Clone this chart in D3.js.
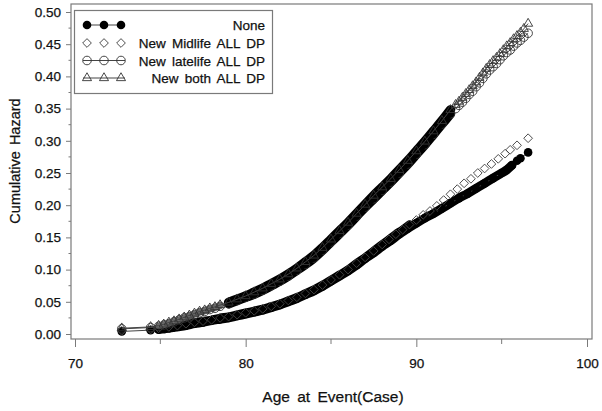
<!DOCTYPE html>
<html><head><meta charset="utf-8">
<script src="https://cdn.jsdelivr.net/npm/d3@7"></script>
<style>body{margin:0;background:#fff}svg{display:block;font-family:"Liberation Sans",Arial,Helvetica,sans-serif}</style>
</head><body><svg id="c" width="602" height="411"></svg>
<script>
// ---- data ----
const seriesNames = ["None", "New Midlife ALL DP", "New latelife ALL DP", "New both ALL DP"];

const noneAge = [72.74,74.43,74.9,75.25,75.5,75.75,76.0,76.5,77.0,77.5,78.0,78.5,79.0,79.5,80.0,80.5,81.0,81.5,82.0,82.5,83.0,83.5,84.0,84.5,85.0,85.5,86.0,86.5,87.0,87.5,88.0,88.5,89.0,89.5,90.0,90.5,91.0,91.5,92.0,92.5,93.0,93.5,94.0,94.5,95.0,95.3,95.6,95.9,96.1,96.55];
const noneHaz = [0.004,0.006,0.007,0.008,0.009,0.010,0.011,0.013,0.016,0.018,0.021,0.023,0.025,0.028,0.031,0.034,0.037,0.041,0.045,0.050,0.055,0.061,0.067,0.074,0.082,0.090,0.098,0.107,0.117,0.126,0.136,0.145,0.155,0.164,0.172,0.180,0.187,0.195,0.203,0.211,0.218,0.226,0.234,0.242,0.250,0.255,0.262,0.269,0.273,0.282];

const midAge = [72.74,74.43,74.9,75.5,76.0,76.5,77.0,77.5,78.0,78.5,79.0,79.5,80.0,80.5,81.0,81.5,82.0,82.5,83.0,83.5,84.0,84.5,85.0,85.5,86.0,86.5,87.0,87.5,88.0,88.4,88.8,89.2,89.6,90.0,90.4,90.8,91.2,91.6,92.0,92.4,92.8,93.2,93.6,94.0,94.4,94.8,95.2,95.5,95.9,96.55];
const midHaz = [0.005,0.007,0.009,0.011,0.013,0.016,0.018,0.020,0.022,0.025,0.027,0.030,0.033,0.036,0.039,0.043,0.047,0.052,0.057,0.063,0.069,0.076,0.084,0.092,0.100,0.110,0.119,0.129,0.139,0.147,0.155,0.162,0.170,0.177,0.185,0.191,0.199,0.208,0.217,0.225,0.234,0.241,0.250,0.257,0.264,0.272,0.280,0.286,0.293,0.304];

const lateAge = [72.74,74.43,74.9,75.2,75.5,75.8,76.1,76.4,76.7,77.0,77.3,77.6,77.9,78.2,78.5,79.0,79.5,80.0,80.5,81.0,81.5,82.0,82.5,83.0,83.5,84.0,84.5,85.0,85.5,86.0,86.5,87.0,87.5,88.0,88.5,89.0,89.5,90.0,90.5,91.0,91.5,92.0,92.3,92.5,92.7,92.9,93.1,93.3,93.5,93.7,93.9,94.1,94.3,94.5,94.7,94.9,95.1,95.3,95.5,95.7,95.9,96.1,96.3,96.55];
const lateHaz = [0.008,0.010,0.012,0.014,0.016,0.019,0.022,0.025,0.027,0.030,0.033,0.035,0.038,0.040,0.043,0.047,0.052,0.057,0.062,0.068,0.075,0.082,0.090,0.099,0.108,0.118,0.130,0.143,0.156,0.169,0.183,0.197,0.210,0.223,0.236,0.250,0.264,0.279,0.294,0.310,0.326,0.342,0.350,0.355,0.360,0.366,0.372,0.377,0.384,0.390,0.397,0.404,0.410,0.415,0.420,0.426,0.432,0.437,0.441,0.447,0.452,0.456,0.461,0.467];

const bothAge = [72.74,74.43,74.9,75.2,75.5,75.8,76.1,76.4,76.7,77.0,77.3,77.6,77.9,78.2,78.5,79.0,79.5,80.0,80.5,81.0,81.5,82.0,82.5,83.0,83.5,84.0,84.5,85.0,85.5,86.0,86.5,87.0,87.5,88.0,88.5,89.0,89.5,90.0,90.5,91.0,91.5,92.0,92.3,92.5,92.7,92.9,93.1,93.3,93.5,93.7,93.9,94.1,94.3,94.5,94.7,94.9,95.1,95.3,95.5,95.7,95.9,96.1,96.3,96.55];
const bothHaz = [0.009,0.011,0.013,0.015,0.018,0.020,0.023,0.026,0.029,0.032,0.035,0.037,0.040,0.042,0.045,0.049,0.054,0.059,0.065,0.071,0.078,0.085,0.093,0.102,0.112,0.122,0.134,0.147,0.160,0.173,0.187,0.201,0.215,0.228,0.241,0.255,0.269,0.284,0.299,0.315,0.331,0.348,0.356,0.361,0.367,0.373,0.379,0.385,0.391,0.398,0.405,0.412,0.418,0.424,0.429,0.435,0.441,0.447,0.452,0.458,0.463,0.468,0.474,0.482];

const xTickValues = [70, 80, 90, 100];
const xMinorValues = [75, 85, 95];
const yTickValues = [0, 0.05, 0.10, 0.15, 0.20, 0.25, 0.30, 0.35, 0.40, 0.45, 0.50];
const yMinorValues = [0.025, 0.075, 0.125, 0.175, 0.225, 0.275, 0.325, 0.375, 0.425, 0.475];
const xTitle = "Age at Event(Case)";
const yTitle = "Cumulative Hazard";

// ---- drawing ----
const svg = d3.select("#c");
const frame = {left: 71, top: 4, right: 592, bottom: 339};
const x = d3.scaleLinear().domain([70, 100]).range([75, 587]);
const y = d3.scaleLinear().domain([0, 0.5]).range([334, 12]);
const gridGrey = "#7a7a7a";
const textStyle = sel => sel.attr("fill", "#111").attr("stroke", "#111").attr("stroke-width", 0.25);

const zip = (a, h) => a.map((v, i) => ({age: v, haz: h[i]}));
const series = [
  {name: seriesNames[0], data: zip(noneAge, noneHaz), sym: "filled", line: true, band: [74.8, 95.7], soft: null, w: 9},
  {name: seriesNames[1], data: zip(midAge, midHaz), sym: "diamond", line: false, band: [74.8, 89.6], soft: null, w: 8.5},
  {name: seriesNames[2], data: zip(lateAge, lateHaz), sym: "circle", line: true, band: [78.6, 92.2], soft: [74.8, 78.8], w: 9.5},
  {name: seriesNames[3], data: zip(bothAge, bothHaz), sym: "triangle", line: true, band: [78.6, 92.2], soft: [74.8, 78.8], w: 9.5}
];

// frame
svg.append("rect").attr("x", frame.left).attr("y", frame.top)
  .attr("width", frame.right - frame.left).attr("height", frame.bottom - frame.top)
  .attr("fill", "none").attr("stroke", gridGrey).attr("stroke-width", 1.2);

// axes
const yAxis = d3.axisLeft(y).tickValues(yTickValues).tickFormat(d3.format(".2f")).tickSizeInner(5).tickSizeOuter(0).tickPadding(5);
const gy = svg.append("g").attr("transform", `translate(${frame.left},0)`).call(yAxis);
gy.select(".domain").remove();
gy.selectAll(".tick line").attr("stroke", gridGrey);
gy.selectAll(".tick text").attr("font-size", "13.5px").attr("font-family", null).call(textStyle);
svg.append("g").selectAll("line").data(yMinorValues).join("line")
  .attr("x1", frame.left - 2.5).attr("x2", frame.left).attr("y1", d => y(d)).attr("y2", d => y(d)).attr("stroke", gridGrey);

const xAxis = d3.axisBottom(x).tickValues(xTickValues).tickFormat(d3.format("d")).tickSizeInner(8).tickSizeOuter(0).tickPadding(11);
const gx = svg.append("g").attr("transform", `translate(0,${frame.bottom})`).call(xAxis);
gx.select(".domain").remove();
gx.selectAll(".tick line").attr("stroke", gridGrey);
gx.selectAll(".tick text").attr("font-size", "13.5px").attr("font-family", null).call(textStyle);
svg.append("g").selectAll("line").data(xMinorValues).join("line")
  .attr("x1", d => x(d)).attr("x2", d => x(d)).attr("y1", frame.bottom).attr("y2", frame.bottom + 5).attr("stroke", gridGrey);

// titles
svg.append("text").attr("x", 333).attr("y", 402).attr("text-anchor", "middle")
  .attr("font-size", "15.5px").attr("word-spacing", "3px").call(textStyle).text(xTitle);
svg.append("text").attr("transform", "translate(20,161) rotate(-90)").attr("text-anchor", "middle")
  .attr("font-size", "14.5px").attr("word-spacing", "2px").call(textStyle).text(yTitle);

// marker factory
function marker(g, sym, cx, cy) {
  if (sym === "filled") {
    g.append("circle").attr("cx", cx).attr("cy", cy).attr("r", 4.3).attr("fill", "#000");
  } else if (sym === "circle") {
    g.append("circle").attr("cx", cx).attr("cy", cy).attr("r", 4.3).attr("fill", "none").attr("stroke", "#333").attr("stroke-width", 0.9);
  } else if (sym === "diamond") {
    g.append("path").attr("d", d3.symbol(d3.symbolSquare, 38)()).attr("transform", `translate(${cx},${cy}) rotate(45)`)
      .attr("fill", "none").attr("stroke", "#444").attr("stroke-width", 0.9);
  } else if (sym === "triangle") {
    g.append("path").attr("d", d3.symbol(d3.symbolTriangle, 36)()).attr("transform", `translate(${cx},${cy})`)
      .attr("fill", "none").attr("stroke", "#333").attr("stroke-width", 0.9);
  }
}

svg.append("defs").append("clipPath").attr("id", "pc").append("rect")
  .attr("x", frame.left).attr("y", frame.top).attr("width", frame.right - frame.left).attr("height", frame.bottom - frame.top);
const plot = svg.append("g").attr("clip-path", "url(#pc)");
const lineGen = d3.line().x(d => x(d.age)).y(d => y(d.haz));

function band(g, s, range, color, width) {
  const pts = s.data.filter(d => d.age >= range[0] && d.age <= range[1]);
  g.append("path").attr("d", lineGen.curve(d3.curveCatmullRom)(pts)).attr("fill", "none")
    .attr("stroke", color).attr("stroke-width", width).attr("stroke-linecap", "round").attr("stroke-linejoin", "round");
}

series.forEach(s => {
  const g = plot.append("g");
  // where events are dense the overlapping markers merge into a solid band
  if (s.soft) band(g, s, s.soft, "#6a6a6a", 6);
  band(g, s, s.band, "#000", s.w);
  if (s.line) {
    g.append("path").attr("d", lineGen.curve(d3.curveLinear)(s.data)).attr("fill", "none")
      .attr("stroke", "#444").attr("stroke-width", 1);
  }
  s.data.forEach(d => marker(g, s.sym, x(d.age), y(d.haz)));
});

// legend
const lg = svg.append("g");
lg.append("rect").attr("x", 74.5).attr("y", 10.5).attr("width", 198).attr("height", 83)
  .attr("fill", "#fff").attr("stroke", gridGrey).attr("stroke-width", 1.2);
const rowY = [25, 43, 60.5, 78];
const symX = [87, 104, 121];
series.forEach((s, i) => {
  const cy = rowY[i];
  if (s.line) lg.append("line").attr("x1", 83).attr("x2", 125).attr("y1", cy).attr("y2", cy).attr("stroke", "#444");
  symX.forEach(sx => marker(lg, s.sym, sx, cy));
  lg.append("text").attr("x", 265).attr("y", cy + 5).attr("text-anchor", "end")
    .attr("font-size", "13.5px").attr("word-spacing", "2.5px").call(textStyle).text(s.name);
});
</script></body></html>
